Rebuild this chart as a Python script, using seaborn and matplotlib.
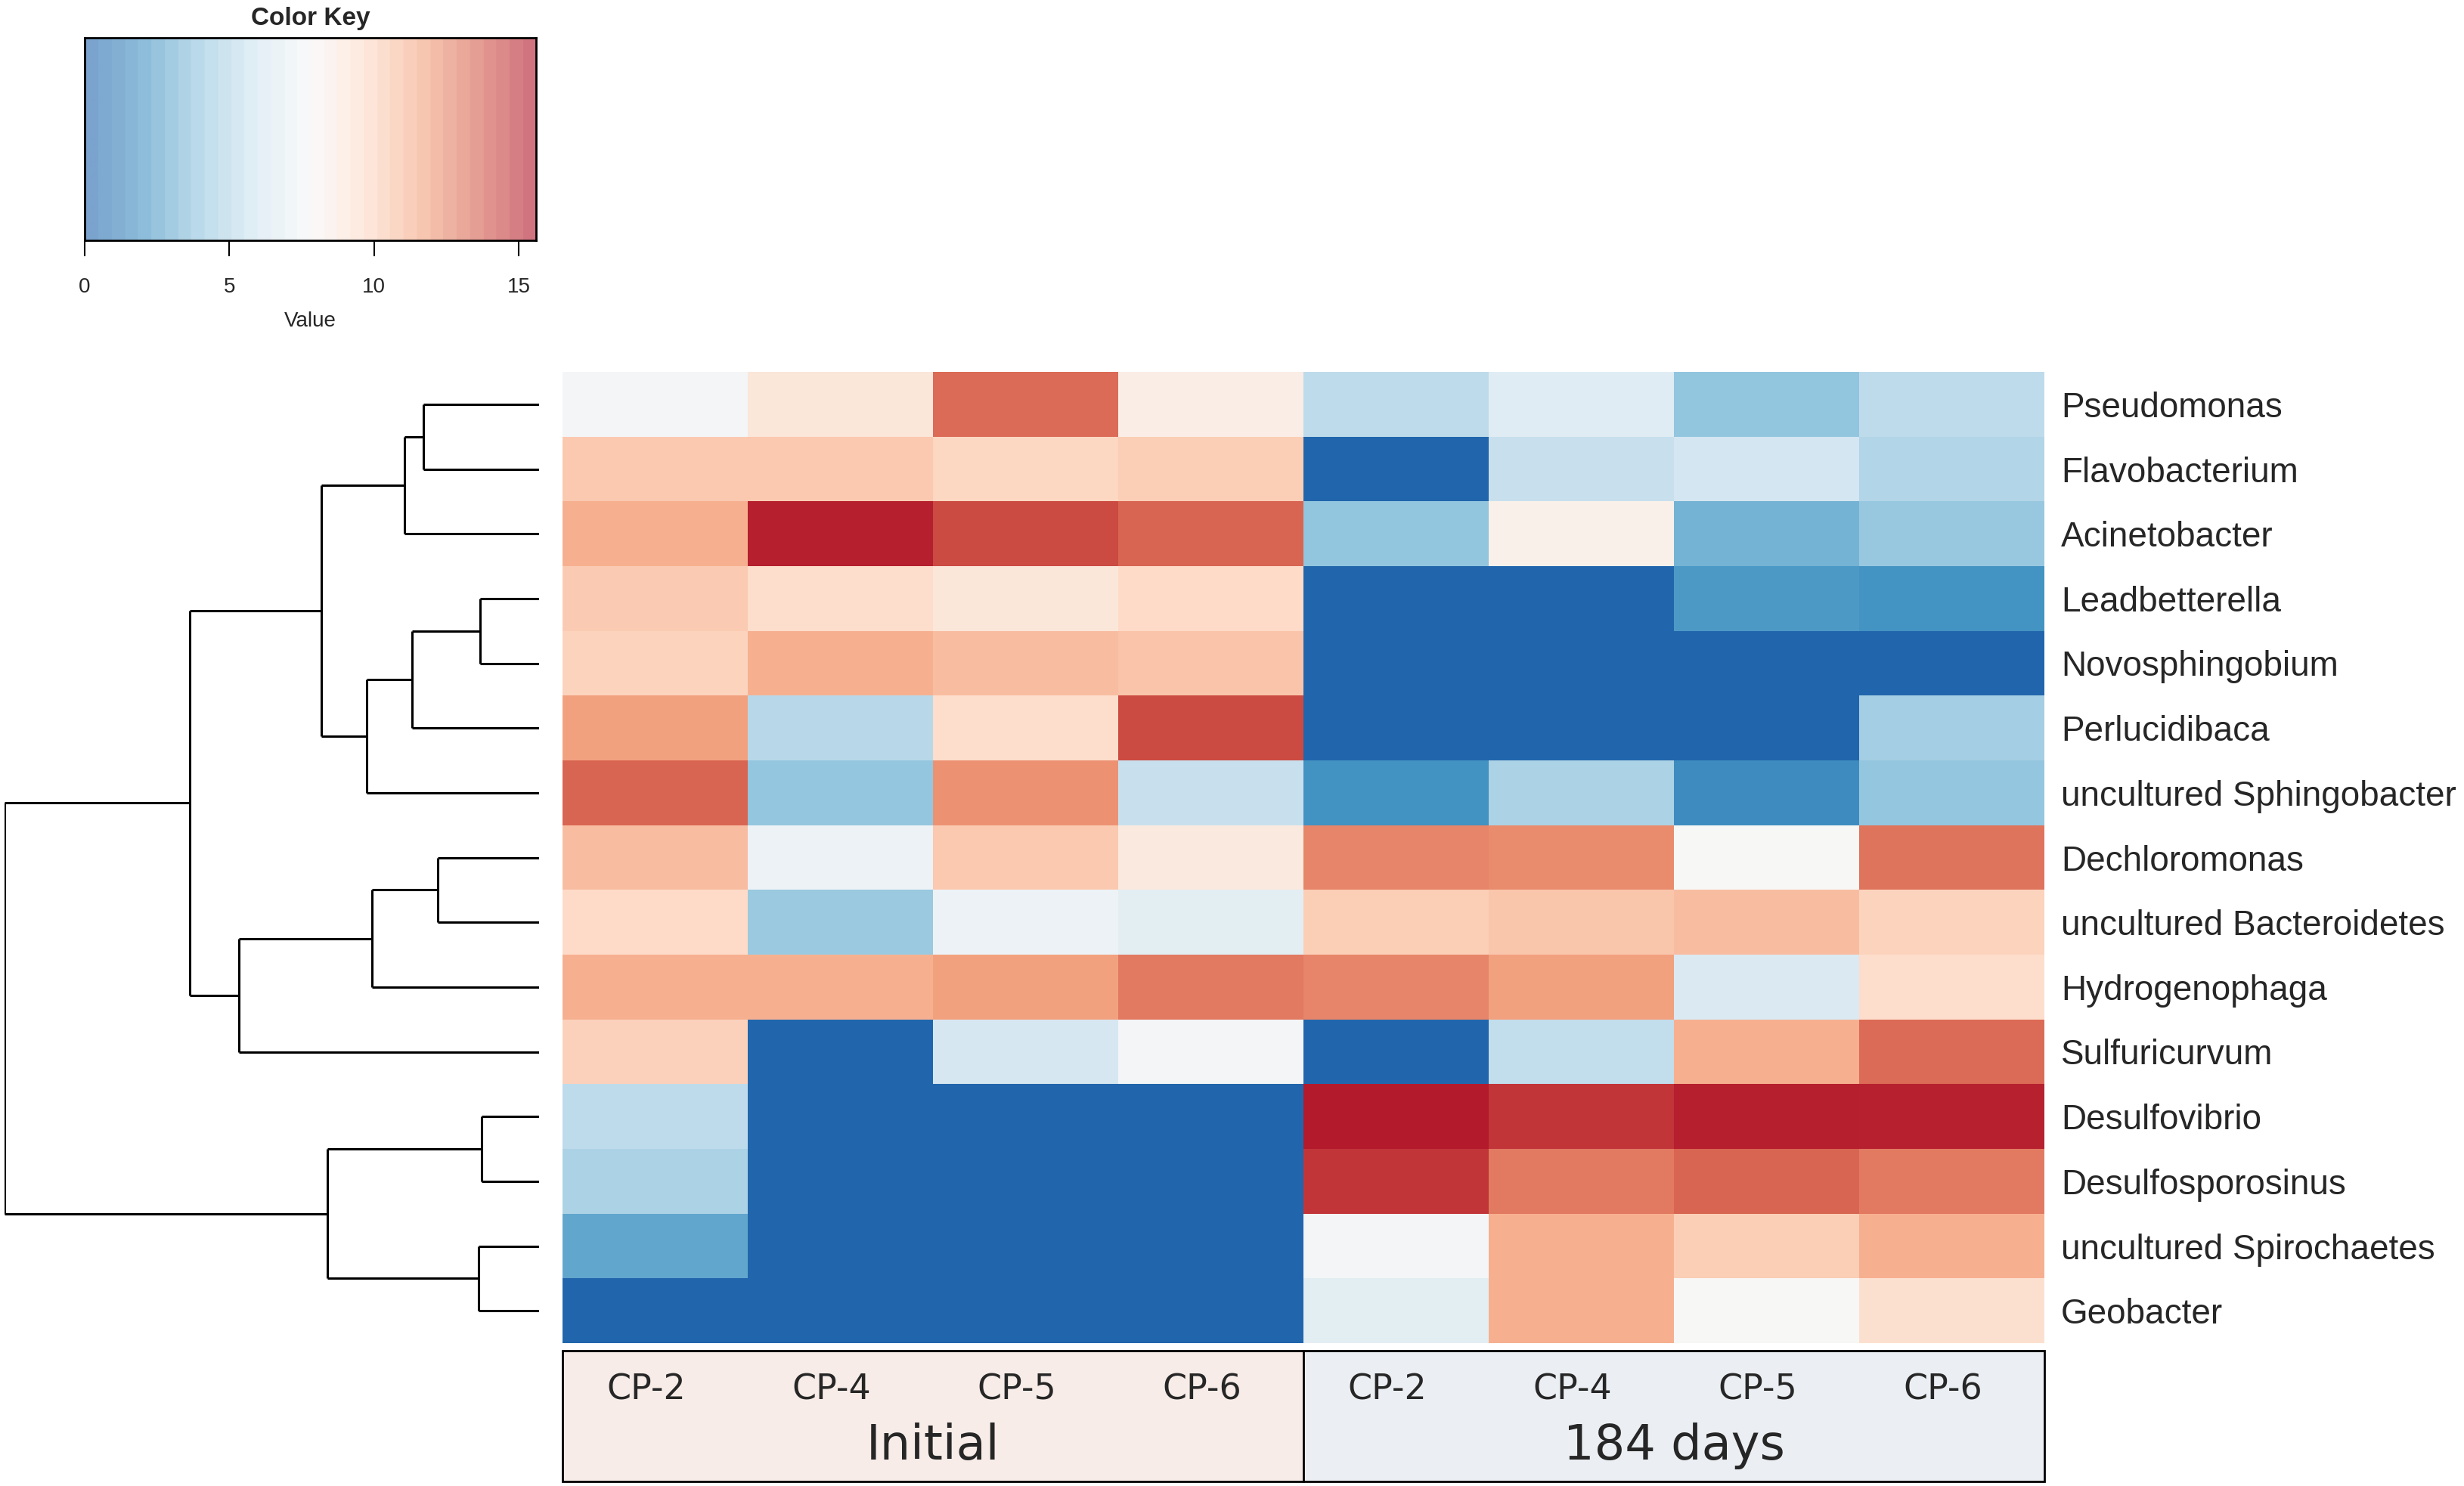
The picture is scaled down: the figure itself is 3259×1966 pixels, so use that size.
import numpy as np
import pandas as pd
import matplotlib
matplotlib.use("Agg")
import matplotlib.pyplot as plt
from matplotlib.colors import LinearSegmentedColormap
from matplotlib.patches import Rectangle
import seaborn as sns

# ---------------- data ----------------
genera = ["Pseudomonas", "Flavobacterium", "Acinetobacter", "Leadbetterella",
          "Novosphingobium", "Perlucidibaca", "uncultured Sphingobacter",
          "Dechloromonas", "uncultured Bacteroidetes", "Hydrogenophaga",
          "Sulfuricurvum", "Desulfovibrio", "Desulfosporosinus",
          "uncultured Spirochaetes", "Geobacter"]
samples = ["CP-2", "CP-4", "CP-5", "CP-6"]
groups = ["Initial", "184 days"]

initial_values = [
    [7.6, 9.0, 13.3, 8.5],
    [10.4, 10.4, 9.9, 10.2],
    [11.3, 15.4, 14.2, 13.5],
    [10.3, 9.6, 9.0, 9.7],
    [10.0, 11.3, 10.8, 10.6],
    [11.8, 5.1, 9.6, 14.2],
    [13.5, 4.0, 12.2, 5.6],
    [10.8, 7.2, 10.4, 8.8],
    [9.7, 4.2, 7.2, 6.8],
    [11.3, 11.3, 11.8, 12.9],
    [10.1, 0.0, 6.1, 7.6],
    [5.3, 0.0, 0.0, 0.0],
    [4.7, 0.0, 0.0, 0.0],
    [2.7, 0.0, 0.0, 0.0],
    [0.0, 0.0, 0.0, 0.0],
]
days184_values = [
    [5.3, 6.6, 3.9, 5.3],
    [0.0, 5.6, 6.0, 4.9],
    [3.9, 8.3, 3.2, 4.1],
    [0.0, 0.0, 2.2, 1.95],
    [0.0, 0.0, 0.0, 0.0],
    [0.0, 0.0, 0.0, 4.5],
    [1.9, 4.7, 1.7, 4.0],
    [12.6, 12.4, 7.8, 13.1],
    [10.2, 10.5, 10.8, 10.0],
    [12.6, 11.8, 6.3, 9.6],
    [0.0, 5.4, 11.3, 13.3],
    [15.5, 14.8, 15.4, 15.3],
    [14.8, 12.9, 13.5, 12.9],
    [7.6, 11.3, 10.2, 11.3],
    [6.8, 11.3, 7.8, 9.4],
]

# row dendrogram: (left child, right child, height); leaves 0..14, new nodes 15..
row_merges = [
    (0, 1, 21.6),      # 15
    (15, 2, 25.2),     # 16
    (3, 4, 11.0),      # 17
    (17, 5, 23.7),     # 18
    (18, 6, 32.2),     # 19
    (16, 19, 40.8),    # 20
    (7, 8, 19.0),      # 21
    (21, 9, 31.2),     # 22
    (22, 10, 56.1),    # 23
    (20, 23, 65.4),    # 24
    (11, 12, 10.7),    # 25
    (13, 14, 11.3),    # 26
    (25, 26, 39.6),    # 27
    (24, 27, 100.0),   # 28
]

key_ticks = [0, 5, 10, 15]
key_min, key_max = 0.0, 15.6

# ---------------- style ----------------
sns.set_theme(style="white")
plt.rcParams["font.family"] = ["Liberation Sans", "DejaVu Sans"]

rdbu9 = ["#2166ac", "#4393c3", "#92c5de", "#d1e5f0", "#f7f7f7",
         "#fddbc7", "#f4a582", "#d6604d", "#b2182b"]
cmap = LinearSegmentedColormap.from_list("rdbu9r", rdbu9, N=256)
key_cmap = LinearSegmentedColormap.from_list("rdbu9r_key", rdbu9, N=34)

W, H = 3259, 1966
fig = plt.figure(figsize=(W / 100, H / 100), dpi=100)
fig.patch.set_facecolor("white")


def fax(x0, y0, x1, y1):
    return fig.add_axes([x0 / W, 1 - y1 / H, (x1 - x0) / W, (y1 - y0) / H])


# ---------------- heatmap ----------------
cols = [f"{g} {s}" for g in groups for s in samples]
mat = np.hstack([np.array(initial_values), np.array(days184_values)])
df = pd.DataFrame(mat, index=genera, columns=cols)

hx0, hy0, hx1, hy1 = 744, 492, 2704, 1777
ax = fax(hx0, hy0, hx1, hy1)
sns.heatmap(df, ax=ax, cmap=cmap, vmin=key_min, vmax=key_max, cbar=False,
            xticklabels=False, yticklabels=genera, linewidths=0)
ax.yaxis.tick_right()
ax.tick_params(axis="y", length=0, pad=16, labelsize=33, labelrotation=0)
for t in ax.get_yticklabels():
    t.set_ha("left")
ax.set_xlabel("")
ax.set_ylabel("")

# ---------------- dendrogram ----------------
dax = fax(6, hy0, 713, hy1)
n = len(genera)
pos = {i: i + 0.5 for i in range(n)}
hgt = {i: 0.0 for i in range(n)}
for k, (a, b, h) in enumerate(row_merges):
    node = n + k
    ya, yb = pos[a], pos[b]
    dax.plot([h, h], [ya, yb], color="black", lw=2.2, solid_capstyle="butt")
    dax.plot([hgt[a], h], [ya, ya], color="black", lw=2.2, solid_capstyle="butt")
    dax.plot([hgt[b], h], [yb, yb], color="black", lw=2.2, solid_capstyle="butt")
    pos[node] = (ya + yb) / 2
    hgt[node] = h
top_h = max(m[2] for m in row_merges)
dax.set_xlim(top_h, 0)
dax.set_ylim(n, 0)
dax.axis("off")

# ---------------- column group box ----------------
bax = fax(hx0, 1787, hx1, 1960)
bax.set_xlim(0, len(cols))
bax.set_ylim(1, 0)
bax.axis("off")
fills = ["#f7ece7", "#ebeff3"]
for gi, g in enumerate(groups):
    x0 = gi * len(samples)
    bax.add_patch(Rectangle((x0, 0), len(samples), 1, facecolor=fills[gi],
                            edgecolor="black", lw=2, clip_on=False))
    for si, s in enumerate(samples):
        bax.text(x0 + si + 0.45, 0.30, s, ha="center", va="center",
                 fontsize=33, family="DejaVu Sans")
    bax.text(x0 + len(samples) / 2, 0.73, g, ha="center", va="center",
             fontsize=46, family="DejaVu Sans")

# ---------------- color key ----------------
kax = fax(112, 50, 709, 318)
grad = np.linspace(key_min, key_max, 400).reshape(1, -1)
kax.imshow(grad, aspect="auto", cmap=key_cmap, vmin=key_min, vmax=key_max,
           extent=[key_min, key_max, 0, 1], alpha=0.6)
kax.set_xlim(key_min, key_max)
kax.set_ylim(0, 1)
kax.set_yticks([])
kax.set_xticks(key_ticks)
kax.set_xticklabels([str(t) for t in key_ticks])
kax.tick_params(axis="x", bottom=True, length=15, width=1.5, labelsize=20,
                pad=20, color="black")
for sp in kax.spines.values():
    sp.set_visible(True)
    sp.set_color("black")
    sp.set_linewidth(2)
kax.set_title("Color Key", fontsize=24, fontweight="bold", pad=12)
kax.set_xlabel("Value", fontsize=20, labelpad=14)

fig.savefig("out.png", dpi=100, facecolor="white")
